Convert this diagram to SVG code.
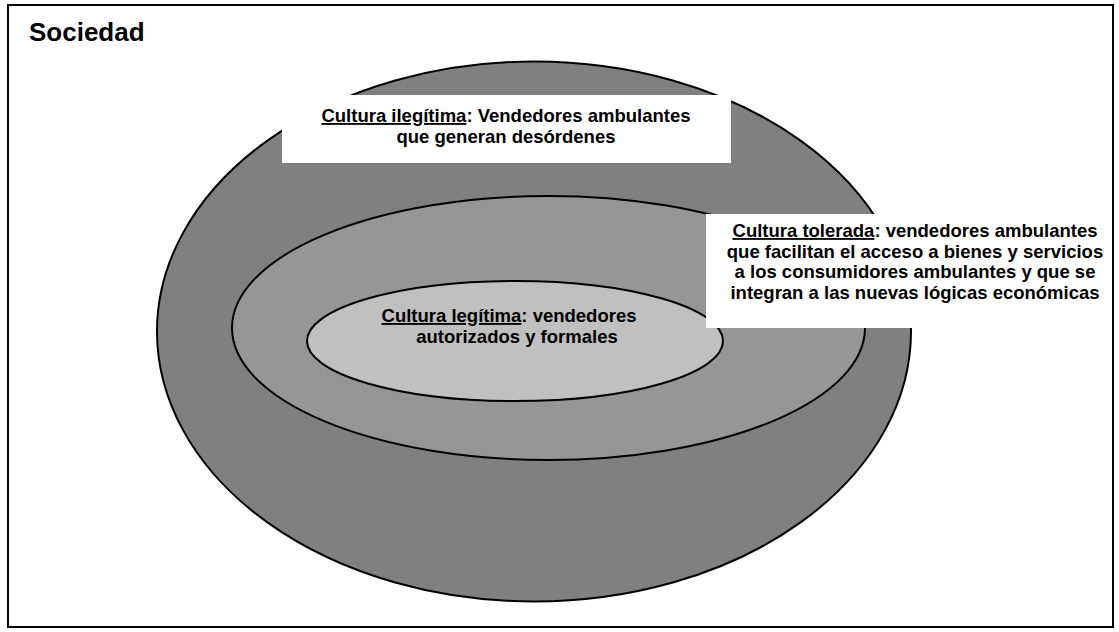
<svg xmlns="http://www.w3.org/2000/svg" width="1119" height="632" viewBox="0 0 1119 632">
<style>
.t{font-family:"Liberation Sans",Arial,sans-serif;font-weight:bold;font-size:18.5px;fill:#000;text-anchor:middle}
.u{text-decoration:underline}
.ring{stroke:#000;stroke-width:2}
.lbl{fill:#fff;stroke:none}
</style>
<rect id="frame" x="8" y="5" width="1105" height="622" fill="#fff" stroke="#000" stroke-width="2"/>
<g id="sociedad"><text x="29" y="41" style="font-family:'Liberation Sans',Arial,sans-serif;font-weight:bold;font-size:26px">Sociedad</text></g>
<g id="outer"><ellipse class="ring" cx="534" cy="331.5" rx="377" ry="270" fill="#808080"/></g>
<g id="middle"><ellipse class="ring" cx="548.5" cy="328" rx="316.5" ry="132" fill="#969696"/></g>
<g id="inner"><ellipse class="ring" cx="515" cy="341" rx="208" ry="60" fill="#c0c0c0"/>
<text class="t" x="509" y="322"><tspan class="u">Cultura legítima</tspan>: vendedores</text>
<text class="t" x="517" y="343">autorizados y formales</text></g>
<g id="ilegitima"><rect class="lbl" x="282" y="95" width="449" height="68"/>
<text class="t" x="506" y="122"><tspan class="u">Cultura ilegítima</tspan>: Vendedores ambulantes</text>
<text class="t" x="506" y="143">que generan desórdenes</text></g>
<g id="tolerada"><rect class="lbl" x="706" y="214" width="404" height="114"/>
<text class="t" x="915" y="237"><tspan class="u">Cultura tolerada</tspan>: vendedores ambulantes</text>
<text class="t" x="915" y="257.5">que facilitan el acceso a bienes y servicios</text>
<text class="t" x="915" y="278">a los consumidores ambulantes y que se</text>
<text class="t" x="915" y="298.5">integran a las nuevas lógicas económicas</text></g>
<g id="connectors"></g>
</svg>
